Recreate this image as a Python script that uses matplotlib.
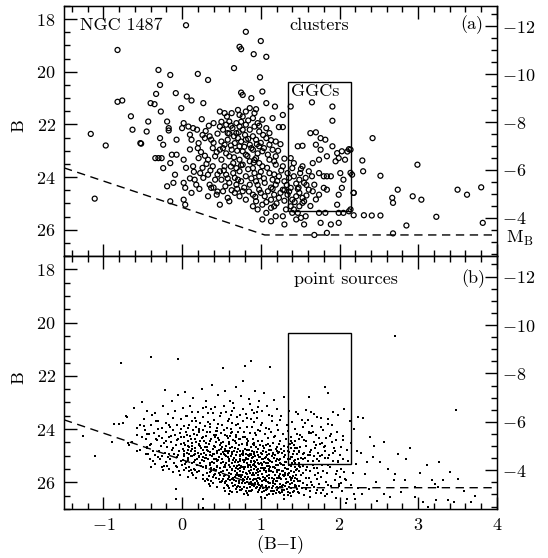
import numpy as np
import matplotlib
matplotlib.use("Agg")
import matplotlib.pyplot as plt
from matplotlib.patches import Rectangle
from matplotlib.ticker import MultipleLocator

plt.rcParams['font.family'] = 'serif'
plt.rcParams['font.serif'] = ['cmr10', 'DejaVu Serif']
plt.rcParams['mathtext.fontset'] = 'cm'
plt.rcParams['axes.formatter.use_mathtext'] = True
plt.rcParams['font.size'] = 13

# cluster candidates: (B-I, B)
clusters = [
    (-1.16, 22.36), (-1.11, 24.82), (-0.97, 22.80), (-0.82, 19.17), (-0.82, 21.14),
    (-0.76, 21.09), (-0.65, 21.69), (-0.63, 22.20), (-0.52, 22.73),
    (0.05, 18.23), (0.81, 18.48), (0.73, 19.05), (0.75, 19.14), (0.91, 19.33),
    (1.00, 18.83), (1.07, 19.43), (0.66, 19.86),
    (-0.30, 19.93), (-0.15, 20.12), (0.20, 20.08), (0.33, 20.31), (0.99, 20.21), (-0.28, 20.50),
    (-0.33, 20.84), (-0.08, 20.81), (0.06, 20.94), (0.12, 21.09), (0.75, 20.79), (0.77, 20.88),
    (0.88, 21.00), (1.02, 20.75), (-0.40, 21.19), (-0.35, 21.23), (-0.01, 21.38), (0.27, 21.19),
    (1.07, 21.19), (1.18, 21.32), (1.38, 21.32), (1.65, 21.16), (1.91, 21.32),
    (-0.27, 21.51), (0.48, 21.51), (0.54, 21.57), (0.57, 21.70), (0.63, 21.57), (0.71, 21.45),
    (0.73, 21.64), (0.81, 21.51), (0.86, 21.38), (0.94, 21.42), (0.92, 21.57), (0.77, 21.70),
    (0.90, 21.76), (0.25, 21.80), (-0.19, 21.89), (0.02, 21.95), (0.60, 21.89), (0.69, 21.95),
    (1.02, 21.82), (1.15, 21.76), (1.28, 21.64), (1.91, 21.86),
    (-0.43, 21.89), (-0.45, 22.27), (-0.17, 22.14), (-0.17, 22.23), (0.00, 22.14), (0.08, 22.08),
    (0.14, 22.14), (0.19, 22.20), (0.10, 22.39), (0.48, 22.08), (0.52, 22.20), (0.56, 22.01),
    (0.58, 22.33), (0.64, 22.14), (0.69, 22.33), (0.73, 22.08), (0.77, 22.20), (0.81, 22.01),
    (0.86, 22.20), (0.92, 22.08), (0.96, 21.95), (0.98, 22.27), (1.07, 22.14), (1.11, 22.33),
    (1.23, 22.10), (1.28, 22.10), (1.63, 22.33), (1.70, 22.30), (1.76, 22.52), (1.82, 22.58),
    (-0.53, 22.71), (-0.28, 22.52), (-0.24, 22.77), (-0.07, 22.58), (0.12, 22.58), (0.21, 22.71),
    (0.29, 22.52), (0.37, 22.58), (0.39, 22.90), (0.50, 22.65), (0.48, 22.96), (0.54, 22.77),
    (0.58, 22.58), (0.63, 22.96), (0.67, 22.71), (0.71, 22.52), (0.73, 22.83), (0.77, 23.02),
    (0.81, 22.58), (0.86, 22.77), (0.90, 22.96), (0.94, 22.58), (0.98, 22.83), (1.02, 23.02),
    (1.07, 22.52), (1.11, 22.77), (1.15, 22.96), (1.19, 22.65), (1.47, 22.83), (1.53, 22.81),
    (1.70, 22.77), (1.76, 22.96), (1.91, 22.83), (1.97, 23.09), (2.03, 23.02), (2.12, 22.94),
    (-0.34, 23.28), (-0.30, 23.28), (-0.26, 23.28), (-0.13, 23.15), (-0.07, 23.15), (0.02, 23.34),
    (-0.24, 23.66), (-0.15, 23.47), (0.14, 23.59), (0.21, 23.28), (0.29, 23.19), (0.33, 23.34),
    (0.42, 23.21), (0.39, 23.59), (0.50, 23.34), (0.54, 23.59), (0.60, 23.21), (0.65, 23.47),
    (0.69, 23.66), (0.73, 23.34), (0.77, 23.53), (0.81, 23.15), (0.86, 23.40), (0.90, 23.66),
    (0.94, 23.28), (0.98, 23.47), (1.02, 23.59), (1.11, 23.34), (1.19, 23.21), (1.19, 23.53),
    (1.28, 23.59), (1.38, 23.28), (1.42, 23.47), (1.40, 23.66), (1.53, 23.59), (1.51, 23.69),
    (1.66, 23.47), (1.74, 23.34), (1.84, 23.21), (1.95, 23.40), (1.99, 23.28), (2.07, 23.34),
    (2.29, 23.37),
    (-0.19, 24.35), (-0.09, 23.91), (-0.11, 24.22), (0.02, 24.22), (0.04, 24.41), (0.16, 24.10),
    (0.18, 24.29), (0.23, 23.85), (0.27, 24.03), (0.33, 23.91), (0.35, 24.29), (0.42, 24.10),
    (0.48, 23.78), (0.50, 24.10), (0.56, 23.91), (0.60, 24.22), (0.67, 24.03), (0.69, 24.29),
    (0.73, 23.78), (0.75, 24.16), (0.81, 23.97), (0.86, 24.29), (0.92, 23.85), (0.94, 24.16),
    (0.98, 23.97), (1.05, 24.22), (1.11, 23.85), (1.15, 24.10), (1.19, 24.29), (1.23, 23.97),
    (1.30, 24.16), (1.34, 23.85), (1.36, 24.03), (1.42, 23.97), (1.49, 24.10), (1.55, 24.22),
    (1.57, 24.03), (1.61, 23.78), (1.65, 23.97), (1.68, 24.29), (1.74, 23.85), (1.80, 23.97),
    (1.84, 23.97), (1.89, 23.97), (2.01, 23.85), (2.05, 24.10), (2.16, 23.91),
    (-0.15, 24.92), (0.02, 24.86), (0.04, 25.05), (0.33, 24.73), (0.37, 24.41), (0.44, 24.67),
    (0.52, 24.54), (0.58, 24.79), (0.60, 24.92), (0.67, 24.60), (0.73, 24.73), (0.77, 24.54),
    (0.81, 24.86), (0.90, 24.67), (0.94, 24.92), (0.98, 24.48), (1.05, 24.73), (1.09, 24.54),
    (1.13, 24.86), (1.17, 24.67), (1.23, 24.79), (1.28, 24.48), (1.34, 24.67), (1.38, 24.41),
    (1.40, 24.86), (1.45, 24.73), (1.49, 24.60), (1.53, 24.79), (1.55, 24.92), (1.61, 24.48),
    (1.66, 24.54), (1.74, 24.67), (1.80, 24.41), (1.84, 24.48), (1.99, 24.67), (2.18, 24.60),
    (2.03, 24.41),
    (0.48, 25.05), (0.90, 25.11), (0.96, 25.23), (1.02, 25.05), (1.07, 25.36), (1.13, 25.17),
    (1.17, 25.11), (1.19, 25.49), (1.28, 25.49), (1.32, 25.23), (1.38, 25.11), (1.40, 25.36),
    (1.42, 25.23), (1.47, 25.36), (1.49, 25.11), (1.53, 24.98), (1.57, 25.49), (1.74, 25.36),
    (1.82, 25.36), (1.97, 25.05), (1.99, 25.36), (2.05, 25.36), (2.12, 25.30), (2.18, 25.45),
    (2.31, 25.45),
    (1.02, 25.61), (1.13, 25.68), (1.30, 25.80), (1.45, 25.61), (1.51, 25.55), (1.55, 25.80),
    (1.76, 25.74), (1.89, 25.80), (1.68, 26.20), (1.84, 26.12), (1.99, 25.74),
    (2.42, 22.52), (2.30, 23.78), (2.52, 23.95), (2.74, 24.48), (2.67, 24.79), (2.68, 24.98),
    (2.93, 24.73), (3.04, 24.86), (2.99, 23.53), (3.23, 25.51), (2.85, 25.84), (2.68, 26.14),
    (3.50, 24.48), (3.62, 24.67), (3.80, 24.39), (3.82, 25.74), (2.41, 25.46), (2.52, 25.46),
    (2.14, 25.23), (2.14, 23.84), (2.14, 22.96), (2.10, 23.03), (2.18, 24.60),
]

# crowded middle of the cluster sequence
clusters_core = [
    (0.30, 22.25), (0.35, 22.45), (0.40, 22.70), (0.45, 22.35), (0.44, 23.05), (0.52, 22.90),
    (0.56, 23.10), (0.62, 22.80), (0.66, 23.25), (0.70, 23.00), (0.75, 22.65), (0.79, 22.85),
    (0.83, 23.20), (0.88, 22.90), (0.92, 23.35), (0.96, 23.10), (1.00, 22.70), (1.04, 22.90),
    (1.09, 23.15), (1.13, 22.60), (1.17, 23.40), (1.22, 23.00), (1.25, 22.75), (1.30, 23.30),
    (0.31, 23.50), (0.36, 23.75), (0.40, 24.40), (0.45, 23.90), (0.53, 23.75), (0.58, 24.05),
    (0.62, 23.60), (0.65, 23.85), (0.71, 24.10), (0.75, 23.55), (0.79, 24.40), (0.84, 23.70),
    (0.88, 24.05), (0.91, 23.45), (0.96, 24.30), (1.00, 23.80), (1.04, 24.05), (1.08, 23.65),
    (1.13, 24.40), (1.17, 23.90), (1.21, 24.15), (1.26, 23.75), (1.30, 24.50), (1.33, 24.30),
    (1.45, 24.25), (1.50, 23.85), (1.58, 24.30), (1.47, 24.45),
    (0.55, 24.35), (0.63, 24.50), (0.70, 24.45), (0.85, 24.55), (0.93, 24.75), (1.00, 24.60),
    (1.07, 24.95), (1.15, 24.45), (1.20, 25.00), (1.25, 24.60), (1.30, 24.90), (1.36, 24.55),
    (1.43, 24.95), (1.48, 24.40), (1.58, 24.70), (1.63, 25.10), (1.70, 24.85),
    (0.60, 22.35), (0.66, 22.45), (0.72, 22.30), (0.80, 22.40), (0.84, 22.55), (0.90, 22.45),
    (0.95, 22.75), (1.03, 22.40), (0.50, 21.90), (0.62, 22.05), (0.75, 21.90), (0.84, 21.85),
    (0.98, 22.05), (0.40, 21.95), (0.34, 22.05), (0.26, 22.40), (0.20, 22.90), (0.24, 23.05),
    (0.10, 22.95), (0.05, 23.65), (0.15, 23.80), (0.10, 24.05), (0.26, 23.65), (0.45, 24.55),
    (0.22, 24.45), (0.12, 24.60),
]

# unresolved point sources: (B-I, B)
points = [
    (-1.11, 25.00), (-1.26, 24.25), (-0.77, 21.50), (-0.39, 21.31), (-0.05, 21.37), (0.87, 21.46),
    (0.80, 21.62), (0.52, 21.71), (1.12, 21.67), (-0.08, 26.62), (0.27, 26.97), (0.27, 26.62),
    (-0.22, 22.53), (-0.61, 23.20), (-0.51, 22.97), (-0.70, 23.54), (-0.80, 23.79), (-0.87, 23.81),
    (-0.53, 23.85), (-0.57, 23.97), (-0.89, 24.48), (-0.68, 24.60), (-0.57, 24.82), (-0.75, 23.76),
    (-0.71, 23.51), (-0.49, 23.89), (-0.51, 24.29), (-0.57, 24.23), (-0.63, 24.48), (-0.69, 24.54),
    (-0.53, 24.79), (-0.45, 24.67), (-0.36, 24.16), (-0.32, 24.42), (-0.34, 24.98), (-0.21, 25.23),
    (-0.17, 25.48), (-0.08, 26.24), (-0.34, 23.41),
    (-0.48, 23.62), (-0.47, 24.05), (-0.46, 24.38), (-0.45, 24.71), (-0.44, 23.33), (-0.43, 24.92),
    (-0.42, 24.18), (-0.41, 25.12), (-0.40, 23.86), (-0.39, 24.55), (-0.38, 23.48), (-0.37, 24.83),
    (-0.36, 24.16), (-0.35, 25.31), (-0.33, 23.71), (-0.31, 25.05), (-0.30, 23.69), (-0.29, 24.27),
    (-0.28, 25.11), (-0.27, 24.63), (-0.26, 23.95), (-0.26, 25.42), (-0.25, 24.35),
    (-0.24, 25.55), (-0.24, 23.12), (-0.23, 24.51), (-0.22, 24.88), (-0.21, 23.77), (-0.20, 24.12),
    (-0.19, 24.66), (-0.19, 25.37), (-0.18, 23.45), (-0.17, 24.31), (-0.16, 24.95), (-0.15, 23.92),
    (-0.15, 25.12), (-0.14, 24.48), (-0.13, 22.96), (-0.13, 24.77), (-0.12, 25.61), (-0.12, 24.04),
    (-0.11, 23.58), (-0.10, 24.93), (-0.10, 25.28), (-0.09, 24.22), (-0.09, 23.31), (-0.08, 24.61),
    (-0.07, 25.05), (-0.06, 23.84), (-0.06, 25.44), (-0.05, 24.38), (-0.05, 22.71), (-0.04, 24.83),
    (-0.03, 25.71), (-0.03, 24.15), (-0.02, 23.62), (-0.02, 25.19), (-0.01, 24.56), (-0.01, 23.98),
    (0.00, 25.36),
    (0.01, 24.74), (0.01, 23.21), (0.02, 25.02), (0.02, 24.31), (0.03, 25.55), (0.03, 23.88),
    (0.04, 24.58), (0.04, 22.62), (0.05, 25.24), (0.05, 24.12), (0.06, 24.89), (0.06, 23.49),
    (0.07, 25.78), (0.07, 24.44), (0.08, 25.09), (0.08, 23.95), (0.09, 24.68), (0.09, 25.41),
    (0.10, 23.12), (0.10, 24.27), (0.11, 25.01), (0.11, 24.83), (0.12, 23.71), (0.12, 25.63),
    (0.13, 24.52), (0.13, 25.27), (0.14, 24.05), (0.14, 22.85), (0.15, 24.96), (0.15, 25.48),
    (0.16, 23.58), (0.16, 24.39), (0.17, 25.15), (0.17, 24.71), (0.18, 23.92), (0.18, 25.84),
    (0.19, 24.22), (0.19, 25.33), (0.20, 24.88), (0.20, 23.36), (0.21, 24.57), (0.21, 25.58),
    (0.22, 24.11), (0.22, 25.06), (0.23, 23.77), (0.23, 24.64), (0.24, 25.39), (0.24, 24.93),
    (0.25, 22.48), (0.25, 24.35),
    (0.26, 25.72), (0.26, 24.02), (0.27, 24.78), (0.27, 23.55), (0.28, 25.21), (0.28, 24.46),
    (0.29, 25.94), (0.29, 23.88), (0.30, 24.99), (0.30, 25.46), (0.31, 24.27), (0.31, 22.94),
    (0.32, 25.63), (0.32, 24.68), (0.33, 23.41), (0.33, 25.12), (0.34, 24.55), (0.34, 26.05),
    (0.35, 24.12), (0.35, 25.34), (0.36, 23.79), (0.36, 24.87), (0.37, 25.57), (0.37, 24.38),
    (0.38, 22.33), (0.38, 25.02), (0.39, 24.73), (0.39, 25.81), (0.40, 23.64), (0.40, 24.21),
    (0.41, 25.26), (0.41, 24.95), (0.42, 23.18), (0.42, 25.68), (0.43, 24.49), (0.43, 25.11),
    (0.44, 23.95), (0.44, 26.18), (0.45, 24.81), (0.45, 25.42), (0.46, 24.33), (0.46, 22.71),
    (0.47, 25.03), (0.47, 25.89), (0.48, 24.61), (0.48, 23.52), (0.49, 25.29), (0.49, 24.15),
    (0.50, 25.61), (0.50, 24.92), (0.28, 24.91), (0.31, 25.08), (0.34, 25.77), (0.37, 23.26),
    (0.40, 25.48), (0.43, 24.07), (0.46, 25.15), (0.49, 25.98), (0.30, 23.18), (0.36, 26.12),
    (0.42, 24.66), (0.48, 25.47),
    (0.51, 23.83), (0.51, 25.14), (0.52, 24.48), (0.53, 25.76), (0.53, 24.02), (0.54, 25.33),
    (0.54, 22.58), (0.55, 24.74), (0.55, 26.04), (0.56, 25.01), (0.56, 23.37), (0.57, 25.52),
    (0.57, 24.26), (0.58, 25.87), (0.58, 24.89), (0.59, 23.62), (0.59, 25.21), (0.60, 24.57),
    (0.60, 26.21), (0.61, 25.44), (0.61, 22.96), (0.62, 24.13), (0.62, 25.68), (0.63, 24.95),
    (0.63, 23.78), (0.64, 25.29), (0.64, 26.36), (0.65, 24.42), (0.65, 25.83), (0.66, 25.07),
    (0.66, 23.21), (0.67, 24.71), (0.67, 25.58), (0.68, 22.41), (0.68, 25.95), (0.69, 24.28),
    (0.69, 25.17), (0.70, 24.86), (0.70, 23.54), (0.71, 25.49), (0.71, 26.12), (0.72, 24.61),
    (0.72, 25.33), (0.73, 23.97), (0.73, 25.74), (0.74, 24.39), (0.74, 25.02), (0.75, 22.77),
    (0.75, 26.28), (0.52, 25.58), (0.55, 25.42), (0.58, 24.35), (0.61, 25.91), (0.64, 24.67),
    (0.67, 26.08), (0.70, 25.66), (0.73, 24.84), (0.53, 26.22), (0.57, 23.95), (0.60, 25.12),
    (0.63, 26.01), (0.66, 25.39), (0.69, 23.86), (0.72, 25.94), (0.74, 25.56), (0.56, 24.62),
    (0.62, 23.46), (0.68, 24.97), (0.71, 24.12), (0.54, 24.81), (0.59, 26.43), (0.65, 23.03),
    (0.70, 26.36),
    (0.76, 24.55), (0.76, 25.41), (0.77, 23.69), (0.77, 25.86), (0.78, 24.98), (0.78, 22.19),
    (0.79, 25.24), (0.79, 26.17), (0.80, 24.31), (0.81, 25.63), (0.81, 23.44), (0.82, 24.77),
    (0.82, 26.41), (0.83, 25.11), (0.83, 23.92), (0.84, 25.79), (0.84, 24.46), (0.85, 26.05),
    (0.85, 22.86), (0.86, 25.34), (0.86, 24.13), (0.87, 25.97), (0.88, 24.68), (0.88, 25.52),
    (0.89, 23.28), (0.89, 26.29), (0.90, 25.06), (0.90, 24.39), (0.91, 25.71), (0.91, 23.73),
    (0.92, 24.92), (0.92, 26.12), (0.93, 25.38), (0.93, 22.57), (0.94, 24.21), (0.94, 25.89),
    (0.95, 25.17), (0.95, 23.58), (0.96, 26.38), (0.96, 24.74), (0.97, 25.49), (0.97, 24.02),
    (0.98, 25.83), (0.98, 22.95), (0.99, 24.58), (0.99, 26.21), (1.00, 25.27), (1.00, 23.84),
    (0.78, 25.62), (0.80, 26.02), (0.82, 25.27), (0.84, 24.98), (0.86, 26.16), (0.88, 25.21),
    (0.90, 25.92), (0.92, 25.51), (0.94, 24.66), (0.96, 25.72), (0.98, 25.31), (0.77, 24.84),
    (0.79, 24.12), (0.81, 26.32), (0.83, 24.61), (0.85, 25.58), (0.87, 24.95), (0.89, 25.74),
    (0.91, 24.52), (0.93, 26.04), (0.95, 25.94), (0.97, 26.02), (0.99, 25.06), (0.76, 26.24),
    (0.80, 25.15), (0.84, 26.48), (0.88, 23.62), (0.92, 23.41), (0.96, 23.17), (1.00, 26.55),
    (1.01, 24.46), (1.01, 25.68), (1.02, 23.33), (1.02, 26.08), (1.03, 25.14), (1.03, 24.82),
    (1.04, 25.91), (1.04, 22.64), (1.05, 24.17), (1.05, 25.47), (1.06, 26.27), (1.06, 23.95),
    (1.07, 25.03), (1.07, 24.59), (1.08, 25.76), (1.08, 26.49), (1.09, 24.33), (1.09, 25.29),
    (1.10, 23.48), (1.10, 26.02), (1.11, 25.58), (1.11, 24.78), (1.12, 25.19), (1.13, 26.33),
    (1.13, 24.11), (1.14, 25.84), (1.14, 23.71), (1.15, 24.93), (1.15, 25.42), (1.16, 26.15),
    (1.16, 24.52), (1.17, 25.07), (1.17, 22.92), (1.18, 25.71), (1.18, 24.27), (1.19, 26.41),
    (1.19, 25.33), (1.20, 24.68), (1.20, 23.26), (1.21, 25.96), (1.21, 25.12), (1.22, 24.02),
    (1.22, 26.22), (1.23, 25.54), (1.23, 24.86), (1.24, 23.64), (1.24, 26.06), (1.25, 25.27),
    (1.25, 24.43), (1.02, 25.36), (1.05, 26.58), (1.08, 24.96), (1.11, 26.18), (1.14, 25.01),
    (1.17, 26.34), (1.20, 25.82), (1.23, 26.38), (1.03, 26.21), (1.06, 25.62), (1.09, 25.98),
    (1.12, 24.62), (1.15, 26.44), (1.18, 25.45), (1.21, 24.82), (1.24, 25.69), (1.04, 24.71),
    (1.10, 25.15), (1.16, 25.61), (1.22, 25.35),
    (1.26, 25.88), (1.26, 23.52), (1.27, 24.91), (1.27, 26.29), (1.28, 25.36), (1.28, 24.18),
    (1.29, 26.47), (1.29, 25.04), (1.30, 24.63), (1.30, 22.78), (1.31, 25.71), (1.31, 26.12),
    (1.32, 24.37), (1.32, 25.23), (1.33, 23.86), (1.33, 25.97), (1.34, 24.82), (1.34, 26.38),
    (1.35, 25.51), (1.35, 24.06), (1.36, 26.19), (1.36, 23.31), (1.37, 25.14), (1.37, 24.57),
    (1.38, 25.82), (1.38, 26.52), (1.39, 24.29), (1.39, 25.39), (1.40, 23.74), (1.40, 26.04),
    (1.41, 24.95), (1.42, 25.62), (1.42, 26.31), (1.43, 24.44), (1.44, 25.17), (1.44, 23.98),
    (1.45, 26.14), (1.46, 24.72), (1.46, 25.48), (1.47, 23.42), (1.47, 25.93), (1.48, 24.87),
    (1.49, 26.41), (1.49, 25.26), (1.50, 24.21), (1.28, 25.74), (1.31, 25.46), (1.34, 25.68),
    (1.37, 26.07), (1.40, 25.28), (1.43, 25.85), (1.46, 26.26), (1.49, 25.58), (1.30, 26.61),
    (1.36, 24.87), (1.42, 24.58), (1.48, 24.36),
    (1.51, 25.71), (1.52, 23.66), (1.52, 26.22), (1.53, 24.93), (1.54, 25.38), (1.55, 24.41),
    (1.55, 26.47), (1.56, 25.09), (1.57, 23.29), (1.58, 25.84), (1.58, 24.62), (1.59, 26.08),
    (1.60, 25.21), (1.61, 24.13), (1.61, 22.81), (1.62, 25.56), (1.63, 26.33), (1.64, 24.77),
    (1.64, 25.97), (1.65, 23.87), (1.66, 25.33), (1.67, 26.18), (1.67, 24.48), (1.68, 25.02),
    (1.69, 25.72), (1.70, 24.21), (1.70, 26.41), (1.71, 23.53), (1.72, 25.46), (1.73, 24.88),
    (1.74, 26.06), (1.74, 25.18), (1.75, 24.56), (1.53, 26.02), (1.57, 25.52), (1.62, 26.56),
    (1.66, 24.12), (1.71, 25.87), (1.60, 23.64), (1.68, 23.44),
    (1.76, 25.81), (1.77, 23.92), (1.78, 25.34), (1.79, 26.27), (1.80, 24.69), (1.81, 25.07),
    (1.82, 22.42), (1.82, 26.51), (1.83, 24.34), (1.84, 25.63), (1.85, 23.61), (1.86, 26.09),
    (1.87, 24.96), (1.88, 25.44), (1.89, 24.18), (1.90, 26.36), (1.91, 23.83), (1.92, 25.21),
    (1.93, 24.72), (1.94, 25.92), (1.95, 26.58), (1.96, 24.41), (1.97, 25.56), (1.98, 23.47),
    (1.99, 26.15), (2.00, 24.99), (1.78, 24.52), (1.84, 26.44), (1.92, 23.35), (1.97, 24.12),
    (1.85, 22.65), (1.64, 23.35), (1.45, 23.35), (1.76, 23.60), (1.85, 23.79), (1.53, 23.91),
    (1.61, 24.10), (1.64, 24.16),
    (2.02, 25.48), (2.03, 26.31), (2.05, 24.25), (2.06, 23.26), (2.07, 25.87), (2.09, 24.78),
    (2.10, 26.62), (2.11, 25.19), (2.13, 23.71), (2.14, 26.08), (2.15, 24.54), (2.17, 25.66),
    (2.18, 26.45), (2.19, 23.98), (2.21, 25.32), (2.22, 24.83), (2.24, 26.21), (2.08, 26.78),
    (2.08, 25.92), (2.01, 25.80), (1.99, 26.05), (2.06, 25.61),
    (2.24, 23.54), (2.30, 23.60), (2.39, 24.29), (2.35, 25.23), (2.52, 25.23), (2.56, 24.48),
    (2.74, 24.92), (2.85, 25.11), (2.70, 25.67), (2.69, 25.92), (3.02, 25.65), (3.11, 25.36),
    (3.26, 25.23), (3.17, 25.92), (3.21, 26.05), (3.32, 25.92), (3.25, 26.18), (3.51, 25.86),
    (3.48, 23.28), (2.71, 20.52), (2.83, 25.92), (2.96, 26.18), (3.06, 26.74), (3.13, 26.93),
    (3.23, 26.68), (3.38, 26.68), (3.46, 26.74), (3.67, 26.74), (2.96, 26.55), (2.64, 26.55),
    (2.56, 26.43), (2.46, 25.99), (2.37, 26.24), (2.20, 26.62), (2.29, 26.43), (2.33, 25.67),
    (2.42, 25.05), (2.48, 26.71), (2.61, 25.48), (2.78, 26.35), (2.90, 24.72), (3.40, 25.62),
    (3.58, 26.31), (3.72, 26.52), (2.27, 24.91), (2.44, 24.63),
]

# crowded faint part of the point-source sequence
points_core = [
    (0.02, 24.95), (0.04, 25.31), (0.06, 24.21), (0.08, 24.62), (0.09, 25.58), (0.11, 24.37),
    (0.13, 25.02), (0.14, 25.71), (0.16, 24.84), (0.18, 24.47), (0.19, 25.12), (0.21, 24.06),
    (0.23, 25.29), (0.24, 24.72), (0.26, 25.41), (0.27, 24.29), (0.29, 25.07), (0.30, 24.54),
    (0.32, 25.86), (0.33, 24.81), (0.35, 25.62), (0.36, 24.44), (0.38, 25.23), (0.39, 24.93),
    (0.41, 25.74), (0.42, 24.31), (0.44, 25.37), (0.45, 24.07), (0.47, 24.78), (0.48, 25.99),
    (0.49, 24.52), (0.03, 24.51), (0.07, 25.17), (0.12, 24.76), (0.17, 25.53), (0.22, 24.59),
    (0.27, 25.87), (0.32, 24.12), (0.37, 25.96), (0.43, 25.55), (0.47, 24.41),
    (0.51, 24.67), (0.52, 25.86), (0.53, 24.94), (0.54, 25.97), (0.55, 24.21), (0.56, 25.27),
    (0.57, 24.82), (0.58, 26.13), (0.59, 24.48), (0.60, 25.78), (0.61, 24.27), (0.62, 25.02),
    (0.63, 25.48), (0.64, 24.09), (0.65, 26.15), (0.66, 24.83), (0.67, 25.24), (0.68, 25.72),
    (0.69, 24.53), (0.70, 25.37), (0.71, 24.74), (0.72, 26.04), (0.73, 25.18), (0.74, 24.97),
    (0.75, 25.81), (0.76, 24.95), (0.77, 25.44), (0.78, 24.28), (0.79, 25.91), (0.80, 24.73),
    (0.81, 25.07), (0.82, 25.98), (0.83, 24.39), (0.84, 25.41), (0.85, 24.78), (0.86, 25.66),
    (0.87, 25.23), (0.88, 26.05), (0.89, 24.83), (0.90, 25.36), (0.91, 26.08), (0.92, 24.61),
    (0.93, 25.02), (0.94, 26.22), (0.95, 24.87), (0.96, 25.26), (0.97, 24.45), (0.98, 26.11),
    (0.99, 25.57), (1.00, 24.91), (0.52, 25.22), (0.55, 25.71), (0.58, 25.04), (0.61, 26.31),
    (0.64, 25.53), (0.67, 24.46), (0.70, 26.18), (0.73, 25.47), (0.76, 25.73), (0.79, 26.42),
    (0.82, 24.53), (0.85, 26.31), (0.88, 24.97), (0.91, 25.18), (0.94, 25.64), (0.97, 25.82),
    (1.00, 26.12), (0.54, 26.34), (0.60, 24.82), (0.66, 25.91), (0.72, 24.36), (0.78, 25.86),
    (0.84, 25.13), (0.90, 24.56), (0.96, 26.06),
    (1.01, 25.12), (1.02, 26.38), (1.03, 24.63), (1.04, 25.52), (1.05, 25.84), (1.06, 24.86),
    (1.07, 26.12), (1.08, 25.39), (1.09, 24.57), (1.10, 25.71), (1.11, 26.42), (1.12, 25.41),
    (1.13, 24.79), (1.14, 26.21), (1.15, 25.62), (1.16, 24.88), (1.17, 25.86), (1.18, 26.07),
    (1.19, 24.75), (1.20, 25.54), (1.21, 26.29), (1.22, 24.91), (1.23, 25.77), (1.24, 25.13),
    (1.25, 26.16), (1.26, 24.73), (1.27, 25.56), (1.28, 26.08), (1.29, 24.81), (1.30, 25.36),
    (1.31, 24.96), (1.32, 25.89), (1.33, 26.24), (1.34, 25.12), (1.35, 24.68), (1.36, 25.64),
    (1.37, 26.41), (1.38, 25.03), (1.39, 25.92), (1.40, 24.54), (1.41, 25.76), (1.42, 25.18),
    (1.43, 26.18), (1.44, 24.71), (1.45, 25.52), (1.46, 24.93), (1.47, 26.36), (1.48, 25.37),
    (1.49, 24.84), (1.50, 25.94), (1.03, 25.78), (1.07, 25.29), (1.11, 24.92), (1.15, 26.04),
    (1.19, 25.19), (1.23, 24.56), (1.27, 26.37), (1.31, 25.63), (1.35, 25.97), (1.39, 24.72),
    (1.43, 25.42), (1.47, 25.11),
    (1.51, 25.07), (1.53, 25.63), (1.55, 24.89), (1.57, 26.24), (1.59, 25.42), (1.61, 25.83),
    (1.63, 24.96), (1.65, 26.11), (1.67, 25.47), (1.69, 24.71), (1.71, 26.28), (1.73, 25.63),
    (1.75, 25.02), (1.77, 26.39), (1.79, 25.58), (1.81, 24.84), (1.83, 25.97), (1.86, 25.34),
    (1.89, 26.12), (1.92, 24.91), (1.95, 25.68), (1.98, 25.19), (2.02, 26.04), (2.05, 25.12),
    (-0.46, 24.92), (-0.41, 24.61), (-0.37, 25.18), (-0.33, 24.36), (-0.29, 24.83), (-0.25, 25.02),
    (-0.21, 24.43), (-0.18, 25.05), (-0.14, 24.26), (-0.11, 24.71), (-0.08, 25.39), (-0.05, 24.96),
    (-0.02, 24.31), (-0.44, 24.19), (-0.31, 23.98), (-0.17, 23.84), (-0.07, 24.42), (-0.39, 25.42),
    (-0.23, 25.37), (-0.04, 25.58),
    (0.05, 23.52), (0.12, 23.36), (0.18, 23.68), (0.26, 23.21), (0.33, 23.74), (0.39, 23.39),
    (0.46, 23.82), (0.53, 23.15), (0.58, 23.69), (0.64, 23.32), (0.71, 23.81), (0.77, 23.23),
    (0.83, 23.57), (0.89, 23.91), (0.95, 23.36), (1.02, 23.76), (1.08, 23.12), (1.14, 23.49),
    (1.20, 23.83), (0.09, 23.83), (0.21, 23.98), (0.35, 23.93), (0.49, 23.41), (0.62, 23.98),
    (0.74, 23.46), (0.86, 23.07), (0.99, 24.07), (1.11, 23.98), (0.15, 24.18), (0.43, 24.23),
    (0.68, 24.21), (0.93, 24.14), (1.17, 24.31),
    (0.31, 25.38), (0.33, 25.92), (0.35, 24.97), (0.37, 25.45), (0.39, 26.03), (0.41, 24.62),
    (0.43, 25.83), (0.45, 25.21), (0.47, 25.64), (0.49, 24.73), (0.51, 25.93), (0.53, 25.41),
    (0.55, 24.96), (0.57, 26.11), (0.59, 25.66), (0.61, 24.71), (0.63, 25.87), (0.65, 25.15),
    (0.67, 25.79), (0.69, 26.24), (0.32, 24.78), (0.36, 25.28), (0.40, 25.12), (0.44, 24.88),
    (0.48, 25.73), (0.52, 24.86), (0.56, 25.94), (0.60, 25.33), (0.64, 24.86), (0.68, 25.46),
    (0.71, 25.24), (0.72, 25.76), (0.73, 26.27), (0.74, 25.11), (0.75, 25.38), (0.76, 26.02),
    (0.77, 25.17), (0.78, 24.88), (0.79, 25.48), (0.80, 25.81), (0.81, 24.92), (0.82, 25.69),
    (0.83, 26.21), (0.84, 25.33), (0.85, 25.02), (0.86, 25.87), (0.87, 25.42), (0.88, 26.33),
    (0.89, 25.08), (0.90, 25.63), (0.91, 24.86), (0.92, 25.86), (0.93, 25.24), (0.94, 25.41),
    (0.95, 26.16), (0.96, 24.96), (0.97, 25.61), (0.98, 25.03), (0.99, 25.88), (1.00, 25.46),
    (1.01, 25.96), (1.02, 24.94), (1.03, 25.47), (1.04, 26.32), (1.05, 25.08), (1.06, 25.93),
    (1.07, 25.56), (1.08, 26.24), (1.09, 25.12), (1.10, 25.83), (0.71, 25.71), (0.74, 26.17),
    (0.77, 25.93), (0.80, 25.41), (0.83, 25.88), (0.86, 24.93), (0.89, 26.11), (0.92, 25.32),
    (0.95, 25.52), (0.98, 26.28), (1.01, 25.31), (1.04, 25.22), (1.07, 25.91), (1.10, 25.48),
    (1.11, 25.37), (1.12, 26.02), (1.13, 25.56), (1.14, 25.24), (1.15, 25.93), (1.16, 26.31),
    (1.17, 25.42), (1.18, 24.98), (1.19, 25.95), (1.20, 26.18), (1.21, 25.62), (1.22, 25.83),
    (1.23, 25.16), (1.24, 26.41), (1.25, 25.84), (1.26, 25.32), (1.27, 26.12), (1.28, 25.58),
    (1.29, 25.77), (1.30, 26.28), (1.31, 25.22), (1.32, 26.03), (1.33, 25.49), (1.34, 26.46),
    (1.35, 25.72), (1.36, 25.33), (1.37, 25.81), (1.38, 26.21), (1.39, 25.57), (1.40, 25.83),
    (1.41, 26.37), (1.42, 25.96), (1.43, 25.26), (1.44, 26.08), (1.45, 25.74), (1.46, 25.88),
    (1.48, 26.12), (1.50, 25.43),
    (0.01, 25.16), (0.03, 24.84), (0.05, 25.47), (0.07, 24.78), (0.09, 24.95), (0.11, 25.52),
    (0.13, 24.64), (0.15, 25.22), (0.17, 24.93), (0.19, 25.61), (0.21, 25.02), (0.23, 24.45),
    (0.25, 25.17), (0.27, 25.04), (0.29, 24.66),
    (1.38, 24.43), (1.42, 24.82), (1.46, 24.17), (1.50, 24.66), (1.54, 25.12), (1.58, 24.44),
    (1.62, 24.87), (1.66, 25.21), (1.70, 24.58), (1.74, 24.33), (1.78, 24.97), (1.82, 24.62),
    (1.86, 25.08), (1.90, 24.47), (1.94, 24.81), (1.98, 25.24), (2.02, 24.66), (1.40, 25.06),
    (1.52, 24.28), (1.60, 24.96), (1.72, 25.13), (1.88, 24.26), (1.56, 23.76), (1.79, 24.05),
    (2.04, 24.42),
]

# completeness limit and Galactic globular cluster box
limit_color = [-1.5, 1.05, 4.0]
limit_B = [23.65, 26.2, 26.2]
ggc_color = [1.35, 2.15]
ggc_B = [20.4, 25.3]

x_range = (-1.5, 4.0)
B_range = (27.0, 17.5)
MB_range = (-2.4, -12.85)

clusters = np.array(clusters + clusters_core)
points = np.array(points + points_core)

fig = plt.figure(figsize=(5.48, 5.58), dpi=100)
ax1 = fig.add_axes([0.1168, 0.5412, 0.790, 0.448])
ax2 = fig.add_axes([0.1168, 0.0878, 0.790, 0.4534])


def style(ax, label_x):
    ax.set_xlim(*x_range)
    ax.set_ylim(*B_range)
    ax.xaxis.set_major_locator(MultipleLocator(1))
    ax.xaxis.set_minor_locator(MultipleLocator(0.2))
    ax.yaxis.set_major_locator(MultipleLocator(2))
    ax.yaxis.set_minor_locator(MultipleLocator(0.5))
    ax.tick_params(which='both', direction='in', top=True, right=False, width=1.0)
    ax.tick_params(which='major', length=9)
    ax.tick_params(which='minor', length=4.5)
    ax.tick_params(axis='x', labelbottom=label_x, pad=6)
    ax.tick_params(axis='y', pad=6)
    for s in ax.spines.values():
        s.set_linewidth(1.0)
    ax.set_ylabel('B', fontsize=13)
    ax.yaxis.set_label_coords(-0.088, 0.52)

    tw = ax.twinx()
    tw.set_ylim(*MB_range)
    tw.yaxis.set_major_locator(MultipleLocator(2))
    tw.yaxis.set_minor_locator(MultipleLocator(0.5))
    tw.tick_params(which='both', direction='in', width=1.0)
    tw.tick_params(which='major', length=9, pad=4)
    tw.tick_params(which='minor', length=4.5)
    return tw


style(ax1, False)
style(ax2, True)

ax1.scatter(clusters[:, 0], clusters[:, 1], s=13, facecolors='none',
            edgecolors='black', linewidths=0.9, zorder=3)
ax2.scatter(points[:, 0], points[:, 1], s=3.2, marker='s', color='black',
            linewidths=0, zorder=3)

for ax in (ax1, ax2):
    ax.plot(limit_color, limit_B, color='black', lw=1.0, linestyle=(0, (6, 4)))
    ax.add_patch(Rectangle((ggc_color[0], ggc_B[0]), ggc_color[1] - ggc_color[0],
                           ggc_B[1] - ggc_B[0], fill=False, lw=1.0, ec='black'))

ax1.text(0.037, 0.924, 'NGC 1487', transform=ax1.transAxes, va='center', ha='left')
ax1.text(0.589, 0.924, 'clusters', transform=ax1.transAxes, va='center', ha='center')
ax1.text(0.942, 0.924, '(a)', transform=ax1.transAxes, va='center', ha='center')
ax1.text(1.39, 20.75, 'GGCs', va='center', ha='left')
ax2.text(0.652, 0.909, 'point sources', transform=ax2.transAxes, va='center', ha='center')
ax2.text(0.945, 0.909, '(b)', transform=ax2.transAxes, va='center', ha='center')

fig.text(0.949, 0.573, r'M$_\mathrm{B}$', ha='center', va='center')
fig.text(0.511, 0.024, '(B$-$I)', ha='center', va='center')

fig.savefig('out.png', dpi=100)
